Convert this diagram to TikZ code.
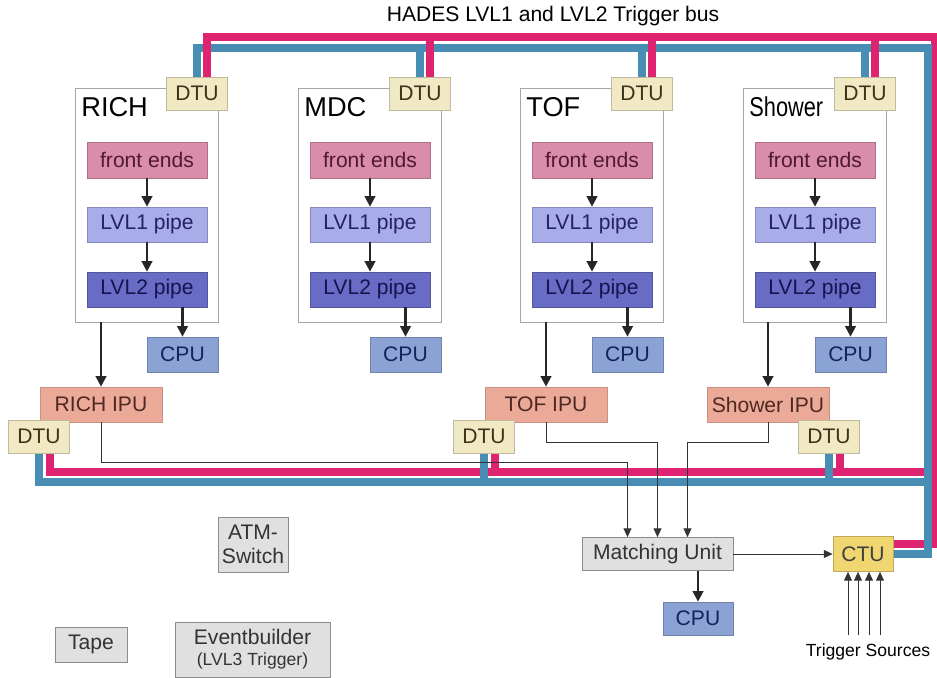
\documentclass[tikz,border=0pt]{standalone}
\usepackage{fontspec}
\setmainfont{Liberation Sans}
\usetikzlibrary{calc, arrows.meta, backgrounds}

\definecolor{fecol}{RGB}{217,141,171}
\definecolor{fetext}{RGB}{80,25,50}
\definecolor{locol}{RGB}{168,172,232}
\definecolor{lotext}{RGB}{35,35,100}
\definecolor{ltcol}{RGB}{104,108,196}
\definecolor{lttext}{RGB}{20,20,80}
\definecolor{cpucol}{RGB}{139,163,212}
\definecolor{cputext}{RGB}{22,35,90}
\definecolor{ipucol}{RGB}{235,170,152}
\definecolor{iputext}{RGB}{80,40,35}
\definecolor{dtucol}{RGB}{240,233,196}
\definecolor{dtutext}{RGB}{60,52,25}
\definecolor{ctucol}{RGB}{240,214,112}
\definecolor{greycol}{RGB}{224,224,224}
\definecolor{buspink}{RGB}{222,36,112}
\definecolor{busblue}{RGB}{72,142,180}

\begin{document}
\begin{tikzpicture}[
        x=0.02cm, y=-0.02cm,
        box/.style={rectangle, inner sep=0pt, line width=0.4pt, font=\fontsize{12}{14}\selectfont},
        fe/.style={box, fill=fecol, draw=fecol!80!black, text=fetext, minimum width=2.4cm, minimum height=0.72cm},
        lvlone/.style={box, fill=locol, draw=locol!80!black, text=lotext, minimum width=2.4cm, minimum height=0.7cm},
        lvltwo/.style={box, fill=ltcol, draw=ltcol!80!black, text=lttext, minimum width=2.4cm, minimum height=0.7cm},
        cpu/.style={box, fill=cpucol, draw=cpucol!80!black, text=cputext, minimum width=1.42cm, minimum height=0.7cm},
        ipu/.style={box, fill=ipucol, draw=ipucol!85!black, text=iputext, minimum width=2.44cm, minimum height=0.7cm},
        dtu/.style={box, fill=dtucol, draw=dtucol!80!black, text=dtutext, minimum width=1.22cm, minimum height=0.66cm},
        ctu/.style={box, fill=ctucol, draw=ctucol!80!black, text=black!75, minimum width=1.2cm, minimum height=0.7cm},
        gbox/.style={box, fill=greycol, draw=black!45, text=black!80, align=center},
        det/.style={rectangle, draw=black!35, fill=white, line width=0.5pt, minimum width=2.86cm, minimum height=4.68cm},
        head/.style={inner sep=0pt, anchor=west, font=\fontsize{15.5}{18}\selectfont},
        arr/.style={-{Triangle[length=6pt,width=6pt]}, line width=1.3pt, black!85},
        sig/.style={-{Triangle[length=5pt,width=4.5pt]}, line width=0.5pt, black!80},
        pinkbus/.style={buspink, line width=4pt, line cap=rect},
        bluebus/.style={busblue, line width=4pt, line cap=rect}
    ]
        \useasboundingbox (0,0) rectangle (937,677);

        \node[font=\fontsize{12}{14}\selectfont] (title) at (553,16) {HADES LVL1 and LVL2 Trigger bus};

        % detector columns, each with its DTU hanging from the upper bus
        \foreach \n/\x/\t in {R/75/RICH, M/298/MDC, T/520/TOF, S/743/{\scalebox{0.8}[1]{Shower}}} {
            \node[det] (det\n) at (\x+71.5,205) {};
            \node[head] (hd\n) at (\x+6,107) {\t};
            \node[dtu] (dtu\n) at (\x+122,93.5) {DTU};
            \node[fe] (fe\n) at (\x+72,160) {front ends};
            \node[lvlone] (lo\n) at (\x+72,224.5) {LVL1 pipe};
            \node[lvltwo] (lt\n) at (\x+72,289.5) {LVL2 pipe};
            \node[cpu] (cpu\n) at (\x+107.5,354.5) {CPU};
            \draw[arr] (fe\n) -- (lo\n);
            \draw[arr] (lo\n) -- (lt\n);
            \draw[arr] (cpu\n.north |- lt\n.south) -- (cpu\n.north);
            \begin{scope}[on background layer]
                \draw[bluebus] (dtu\n.north) |- (928,48);
                \draw[pinkbus] ($(dtu\n.north)+(10,0)$) |- (935,37);
            \end{scope}
        }

        % image processing units on the lower bus
        \foreach \n/\x/\d/\t in {R/101/-62/RICH IPU, T/546/-62/TOF IPU, S/768/61/Shower IPU} {
            \node[ipu] (ipu\n) at (\x,404.5) {\t};
            \node[dtu] (ldtu\n) at (\x+\d,436.5) {DTU};
            \draw[arr] (ipu\n.north |- det\n.south) -- (ipu\n.north);
            \begin{scope}[on background layer]
                \draw[pinkbus] ($(ldtu\n.south)+(11,0)$) |- (928,472);
                \draw[bluebus] (ldtu\n.south) |- (928,482);
            \end{scope}
        }

        \node[gbox, minimum width=3.02cm, minimum height=0.66cm] (mu) at (657.5,554) {Matching Unit};
        \node[cpu, minimum width=1.4cm, minimum height=0.66cm] (mucpu) at (698,618.5) {CPU};
        \node[ctu] (ctu) at (863,554) {CTU};
        \node[font=\fontsize{10}{12}\selectfont] (src) at (868,652) {Trigger Sources};

        \node[gbox, minimum width=1.4cm, minimum height=1.1cm] (atm) at (253,544.5) {ATM-\\Switch};
        \node[gbox, minimum width=1.44cm, minimum height=0.7cm] (tape) at (91,644.5) {Tape};
        \node[gbox, minimum width=3.1cm, minimum height=1.1cm] (evb) at (252.5,649.5) {Eventbuilder\\[-2pt]{\fontsize{10}{12}\selectfont (LVL3 Trigger)}};

        % right side of the bus down to the CTU
        \begin{scope}[on background layer]
            \draw[pinkbus] (935,37) |- ($(ctu.east)+(0,-10)$);
            \draw[bluebus] (928,48) |- (ctu.east);
        \end{scope}

        % IPU results to the matching unit
        \draw[sig] (ipuR.south) |- ($(mu.north)+(-30,-75)$) -- ($(mu.north)+(-30,0)$);
        \draw[sig] (ipuT.south) |- ($(mu.north)+(0,-95)$) -- (mu.north);
        \draw[sig] (ipuS.south) |- ($(mu.north)+(30,-95)$) -- ($(mu.north)+(30,0)$);
        \draw[sig] (mu.east) -- (ctu.west);
        \draw[arr] (mucpu.north |- mu.south) -- (mucpu.north);
        \foreach \dx in {-15,-5,6,17}
            \draw[sig] ($(ctu.south)+(\dx,63)$) -- ($(ctu.south)+(\dx,0)$);
    \end{tikzpicture}
\end{document}
